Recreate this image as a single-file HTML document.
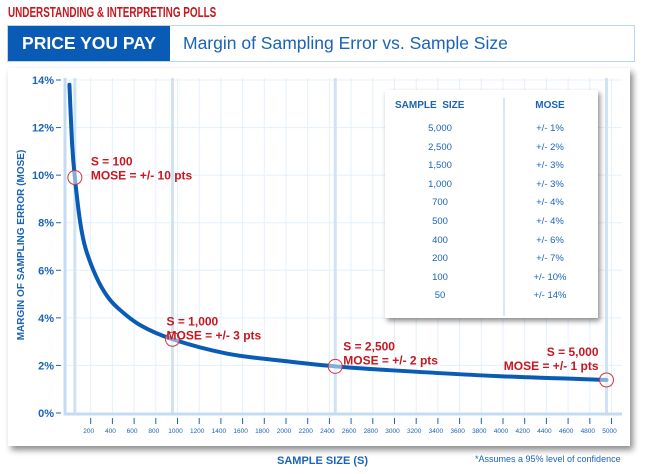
<!DOCTYPE html>
<html><head><meta charset="utf-8"><style>
body{margin:0;width:648px;height:474px;background:#fff;font-family:"Liberation Sans",sans-serif;overflow:hidden;position:relative}
.t{position:absolute;white-space:nowrap}
</style></head><body>
<div class="t" style="left:8px;top:4px;color:#c8171e;font:bold 15px 'Liberation Sans Narrow','Liberation Sans',sans-serif;transform:scaleX(0.66);transform-origin:left">UNDERSTANDING &amp; INTERPRETING POLLS</div>
<div style="position:absolute;left:7px;top:25px;width:628px;height:37px;border:1px solid #b9d6f0;box-sizing:border-box;background:#fff"></div>
<div class="t" style="left:8px;top:26px;width:162px;height:35px;background:#0a5bb5;color:#fff;font-weight:bold;font-size:17.5px;line-height:35px;text-align:center">PRICE YOU PAY</div>
<div class="t" style="left:183px;top:33px;color:#1a63b8;font-size:17.5px">Margin of Sampling Error vs. Sample Size</div>
<div style="position:absolute;left:8px;top:68px;width:622px;height:378px;background:#fff;box-shadow:3px 4px 6px rgba(0,0,0,0.45)"></div>
<svg width="648" height="474" style="position:absolute;left:0;top:0" id="chart"></svg>
<div style="position:absolute;left:385px;top:90px;width:213px;height:228px;background:#fff;box-shadow:2px 3px 5px rgba(0,0,0,0.45)">
<div style="position:absolute;left:118px;top:8px;width:2px;height:218px;background:#d6e7f7"></div>
<div class="t" style="left:10px;top:10px;color:#1a63b8;font-weight:bold;font-size:10px">SAMPLE&nbsp; SIZE</div>
<div class="t" style="left:165px;top:10px;width:0;color:#1a63b8;font-weight:bold;font-size:10px"><span style="position:absolute;transform:translateX(-50%)">MOSE</span></div>
<div id="rows"></div>
</div>
<div class="t" style="left:277px;top:455px;color:#1a63b8;font-weight:bold;font-size:11px">SAMPLE SIZE (S)</div>
<div class="t" style="left:475px;top:454px;color:#1a63b8;font-size:9px">*Assumes a 95% level of confidence</div>
<script>
const sizes=[50,75,100,150,200,300,400,500,700,1000,1500,2000,2500,3000,4000,5000];
const mose=[13.8,11.3,9.9,8.0,6.9,5.7,4.9,4.4,3.7,3.1,2.5,2.2,1.96,1.8,1.55,1.39];
const yTicks=[0,2,4,6,8,10,12,14];
const xTicks=[200,400,600,800,1000,1200,1400,1600,1800,2000,2200,2400,2600,2800,3000,3200,3400,3600,3800,4000,4200,4400,4600,4800,5000];
const tableSizes=["5,000","2,500","1,500","1,000","700","500","400","200","100","50"];
const tableMose=["+/- 1%","+/- 2%","+/- 3%","+/- 3%","+/- 4%","+/- 4%","+/- 6%","+/- 7%","+/- 10%","+/- 14%"];
const callSizes=[100,1000,2500,5000];
const callLabels=[["S = 100","MOSE = +/- 10 pts"],["S = 1,000","MOSE = +/- 3 pts"],["S = 2,500","MOSE = +/- 2 pts"],["S = 5,000","MOSE = +/- 1 pts"]];
const NS="http://www.w3.org/2000/svg",svg=document.getElementById('chart');
const y=v=>413-v*(333/14);
const xt=v=>69+v*0.1085;
const xc=v=>64+v*0.1085;
function el(t,a,p){const e=document.createElementNS(NS,t);for(const k in a)e.setAttribute(k,a[k]);(p||svg).appendChild(e);return e;}
const grid=el('g',{});
yTicks.forEach(v=>{if(v>0)el('line',{x1:66,x2:622,y1:y(v),y2:y(v),stroke:'#e4f0fb','stroke-width':1},grid);});
xTicks.forEach(v=>{el('line',{x1:xt(v),x2:xt(v),y1:78,y2:413,stroke:'#e4f0fb','stroke-width':1},grid);});
callSizes.forEach(s=>{const l=el('line',{x1:xc(s),x2:xc(s),y1:78,y2:413,stroke:'#cfe3f5','stroke-width':3},grid);});
const ax=el('line',{x1:65,x2:65,y1:78,y2:415,stroke:'#c3dcf2','stroke-width':3});

const bx=el('line',{x1:64,x2:622,y1:414,y2:414,stroke:'#c3dcf2','stroke-width':3});

yTicks.forEach(v=>{
 el('line',{x1:56,x2:61,y1:y(v),y2:y(v),stroke:'#1a63b8','stroke-width':1});
 const t=el('text',{x:54,y:y(v)+4,'text-anchor':'end',fill:'#1a63b8','font-size':11,'font-weight':'bold','font-family':'Liberation Sans'});t.textContent=v+'%';
 
});
xTicks.forEach(v=>{
 el('line',{x1:xt(v),x2:xt(v),y1:418,y2:424,stroke:'#1a63b8','stroke-width':1});
 const t=el('text',{x:xt(v)-2,y:433,'text-anchor':'middle',fill:'#1a63b8','font-size':6.5,'font-family':'Liberation Sans'});t.textContent=v;
 
});
const yt=el('text',{x:0,y:0,transform:'translate(24,245) rotate(-90)','text-anchor':'middle',fill:'#1a63b8','font-size':10,'font-weight':'bold','font-family':'Liberation Sans'});
yt.textContent='MARGIN OF SAMPLING ERROR (MOSE)';
const P=sizes.map((s,i)=>[xc(s),y(mose[i])]);
let d='M'+P[0][0]+','+P[0][1];
for(let i=0;i<P.length-1;i++){const p0=P[i-1]||P[i],p1=P[i],p2=P[i+1],p3=P[i+2]||p2;
 d+=` C${p1[0]+(p2[0]-p0[0])/6},${p1[1]+(p2[1]-p0[1])/6} ${p2[0]-(p3[0]-p1[0])/6},${p2[1]-(p3[1]-p1[1])/6} ${p2[0]},${p2[1]}`;}
const c=el('path',{d:d,fill:'none',stroke:'#0a5bb5','stroke-width':4,'stroke-linecap':'round'});

const offs=[[16,-12,'start'],[-6,-14,'start'],[8,-16,'start'],[-8,-24,'end']];
callSizes.forEach((s,i)=>{
 const k=sizes.indexOf(s),cx=xc(s),cy=y(mose[k]);
 const ci=el('circle',{cx:cx,cy:cy,r:7,fill:'rgba(255,255,255,0.5)',stroke:'#d0353b','stroke-width':1});
 
 callLabels[i].forEach((txt,j)=>{
  const t=el('text',{x:cx+offs[i][0],y:cy+offs[i][1]+j*14,'text-anchor':offs[i][2],fill:'#c8171e','font-size':12,'font-weight':'bold','font-family':'Liberation Sans'});
  t.textContent=txt;
 });
});
const rows=document.getElementById('rows');
tableSizes.forEach((s,i)=>{
 const top=33+i*18.6;
 const a=document.createElement('div');a.className='t';a.style.cssText=`left:55px;top:${top}px;width:0;color:#1a63b8;font-size:9.5px`;
 a.innerHTML='<span style="position:absolute;transform:translateX(-50%)">'+s+'</span>';
 
 
 rows.appendChild(a);
 const b=document.createElement('div');b.className='t';b.style.cssText=`left:165px;top:${top}px;width:0;color:#1a63b8;font-size:9.5px`;
 b.innerHTML='<span style="position:absolute;transform:translateX(-50%)">'+tableMose[i]+'</span>';
 
 
 rows.appendChild(b);
});
</script>
</body></html>
